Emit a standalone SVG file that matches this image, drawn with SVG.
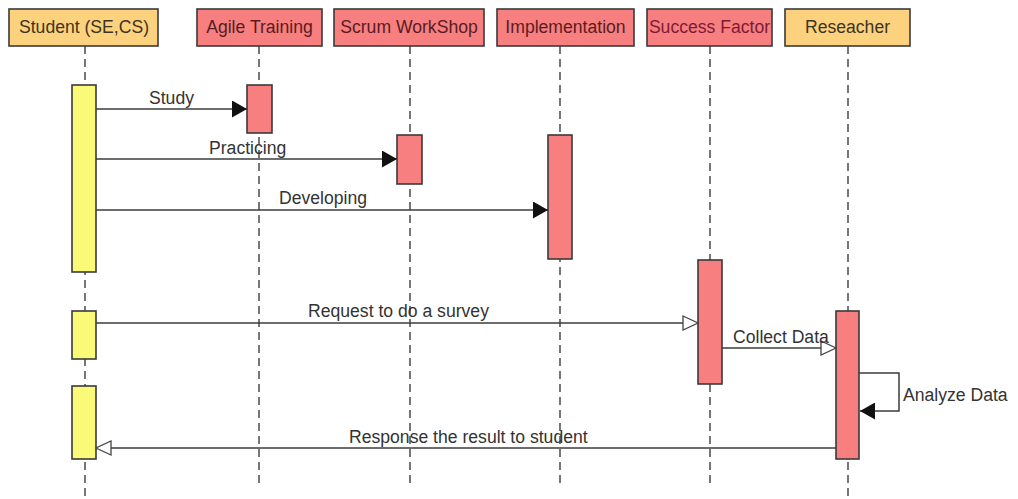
<svg xmlns="http://www.w3.org/2000/svg" width="1018" height="499" viewBox="0 0 1018 499">
  <style>
    .hdr-o { fill: #fdd27f; stroke: #3a3a3a; stroke-width: 1.6; }
    .hdr-r { fill: #f77f7f; stroke: #3a3a3a; stroke-width: 1.6; }
    .act-y { fill: #fafa78; stroke: #3a3a3a; stroke-width: 1.6; }
    .act-r { fill: #f77f7f; stroke: #3a3a3a; stroke-width: 1.6; }
    .life { stroke: #555; stroke-width: 1.6; stroke-dasharray: 8 5; fill: none; }
    .msg { stroke: #3c3c3c; stroke-width: 1.5; fill: none; }
    text { font-family: "Liberation Sans", Arial, sans-serif; font-size: 17.6px; }
    .t-o { fill: #3d3420; text-anchor: middle; }
    .t-r { fill: #5a1c22; text-anchor: middle; }
    .lbl { fill: #333; }
  </style>
  <defs>
    <marker id="solid" markerUnits="userSpaceOnUse" viewBox="0 0 15 17" markerWidth="15" markerHeight="17" refX="15" refY="8.5" orient="auto">
      <path d="M0,0 L15,8.5 L0,17 Z" fill="#111"/>
    </marker>
    <marker id="open" markerUnits="userSpaceOnUse" viewBox="-1 -1 17 16" markerWidth="17" markerHeight="16" refX="15" refY="7" orient="auto">
      <path d="M0,0 L15,7 L0,14 Z" fill="#fff" stroke="#444" stroke-width="1.3"/>
    </marker>
  </defs>

  <rect width="1018" height="499" fill="#fff"/>

  <!-- lifelines -->
  <g id="lifelines">
    <line class="life" x1="85" y1="46" x2="85" y2="499"/>
    <line class="life" x1="259" y1="46" x2="259" y2="488"/>
    <line class="life" x1="410" y1="46" x2="410" y2="486"/>
    <line class="life" x1="560" y1="46" x2="560" y2="484"/>
    <line class="life" x1="710" y1="46" x2="710" y2="488"/>
    <line class="life" x1="848" y1="46" x2="848" y2="499"/>
  </g>

  <g id="student">
    <rect class="hdr-o" x="9" y="9" width="149" height="37"/>
    <text class="t-o" x="84" y="33">Student (SE,CS)</text>
    <rect class="act-y" x="72" y="85" width="24" height="187"/>
    <rect class="act-y" x="72" y="311" width="24" height="48"/>
    <rect class="act-y" x="72" y="386" width="24" height="73"/>
  </g>

  <g id="agile-training">
    <rect class="hdr-r" x="197" y="9" width="125" height="37"/>
    <text class="t-r" x="259.5" y="33">Agile Training</text>
    <rect class="act-r" x="247" y="85" width="25" height="48"/>
  </g>

  <g id="scrum-workshop">
    <rect class="hdr-r" x="334" y="9" width="150" height="37"/>
    <text class="t-r" x="409" y="33">Scrum WorkShop</text>
    <rect class="act-r" x="397" y="135" width="25" height="49"/>
  </g>

  <g id="implementation">
    <rect class="hdr-r" x="497" y="9" width="137" height="37"/>
    <text class="t-r" x="565.5" y="33">Implementation</text>
    <rect class="act-r" x="548" y="135" width="24" height="124"/>
  </g>

  <g id="success-factor">
    <rect class="hdr-r" x="647" y="9" width="125" height="37"/>
    <text class="t-r" x="709.5" y="33" style="fill:#7e1a35">Success Factor</text>
    <rect class="act-r" x="698" y="260" width="24" height="124"/>
  </g>

  <g id="reseacher">
    <rect class="hdr-o" x="785" y="9" width="125" height="37"/>
    <text class="t-o" x="847.5" y="33">Reseacher</text>
    <rect class="act-r" x="836" y="311" width="23" height="148"/>
  </g>

  <!-- messages -->
  <g id="connectors">
    <line class="msg" x1="96" y1="109" x2="247" y2="109" marker-end="url(#solid)"/>
    <text class="lbl" x="149" y="104">Study</text>

    <line class="msg" x1="96" y1="159" x2="397" y2="159" marker-end="url(#solid)"/>
    <text class="lbl" x="209" y="154">Practicing</text>

    <line class="msg" x1="96" y1="210" x2="548" y2="210" marker-end="url(#solid)"/>
    <text class="lbl" x="279" y="204">Developing</text>

    <line class="msg" x1="96" y1="323" x2="698" y2="323" marker-end="url(#open)"/>
    <text class="lbl" x="308" y="317">Request to do a survey</text>

    <line class="msg" x1="722" y1="348" x2="836" y2="348" marker-end="url(#open)"/>
    <text class="lbl" x="733" y="343">Collect Data</text>

    <path class="msg" d="M859,373 H899 V411 H860" marker-end="url(#solid)"/>
    <text class="lbl" x="903" y="401">Analyze Data</text>

    <line class="msg" x1="836" y1="448" x2="96" y2="448" marker-end="url(#open)"/>
    <text class="lbl" x="349" y="443">Response the result to student</text>
  </g>
</svg>
